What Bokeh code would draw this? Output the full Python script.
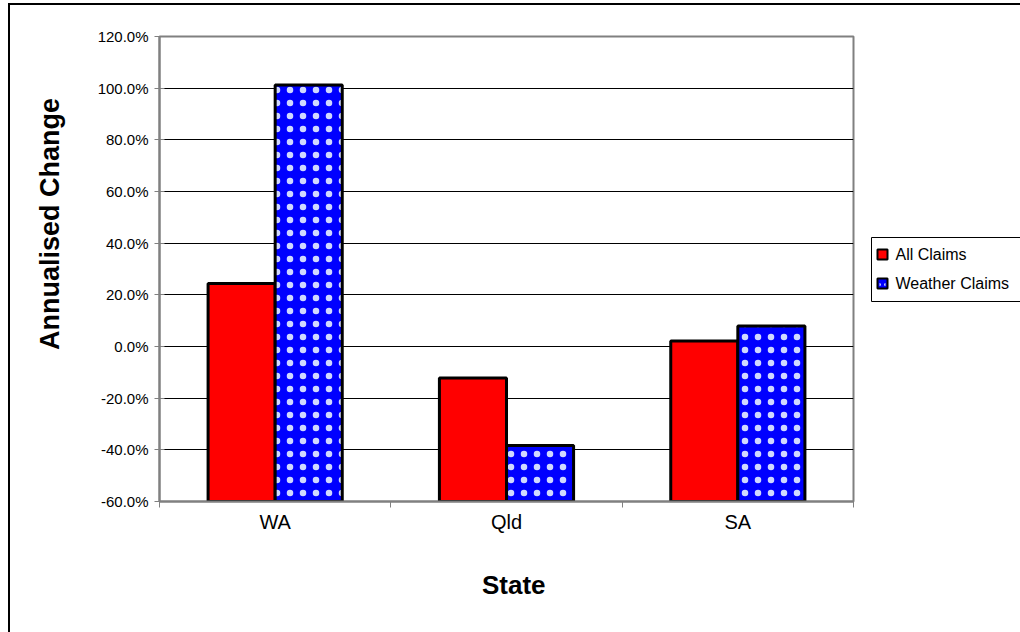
from bokeh.plotting import figure
from bokeh.models import (Range1d, FixedTicker, PrintfTickFormatter, ColumnDataSource)
from bokeh.core.properties import value
from bokeh.transform import dodge
from bokeh.layouts import row
from bokeh.embed import file_html
from bokeh.resources import INLINE

states = ["WA", "Qld", "SA"]
state_pos = [0.5, 1.5, 2.5]
all_claims = [24.4, -12.2, 2.1]
weather_claims = [101.2, -38.3, 7.9]
y_ticks = [-60, -40, -20, 0, 20, 40, 60, 80, 100, 120]
y_min, y_max = -60, 120
series_names = ["All Claims", "Weather Claims"]
series_colors = ["#ff0000", "#0000ff"]

src = ColumnDataSource(dict(x=state_pos, all=all_claims, weather=weather_claims))

H = 627
p = figure(width=860, height=H, output_backend="svg", toolbar_location=None,
           x_range=Range1d(0, 3), y_range=Range1d(y_min, y_max),
           min_border_left=149, min_border_right=17, min_border_top=31, min_border_bottom=131)

p.background_fill_color = "white"
p.border_fill_color = "white"
p.outline_line_color = "#808080"
p.outline_line_width = 2

# grid
p.xgrid.visible = False
p.ygrid.ticker = FixedTicker(ticks=y_ticks)
p.ygrid.grid_line_color = "black"
p.ygrid.grid_line_width = 1

# bars grow from the axis minimum, as in the reference
p.vbar(x=dodge("x", -0.145), top="all", bottom=y_min, width=0.29, source=src,
       fill_color=series_colors[0], line_color="black", line_width=3)
p.vbar(x=dodge("x", 0.145), top="weather", bottom=y_min, width=0.29, source=src,
       fill_color=series_colors[1], line_color="black", line_width=3,
       hatch_pattern=".", hatch_color="#d0d8ff", hatch_scale=13, hatch_weight=0.8)

# y axis
ya = p.yaxis[0]
ya.ticker = FixedTicker(ticks=y_ticks)
ya.formatter = PrintfTickFormatter(format="%.1f%%")
ya.axis_line_color = "#808080"
ya.axis_line_width = 2
ya.major_tick_line_color = "#808080"
ya.major_tick_line_width = 1
ya.major_tick_in = 5
ya.major_tick_out = 5
ya.minor_tick_line_color = None
ya.major_label_text_font = "Liberation Sans"
ya.major_label_text_font_size = "15px"
ya.major_label_text_color = "black"
ya.major_label_standoff = 6
ya.axis_label = "\u00a0" * 12 + "Annualised Change"
ya.axis_label_text_font = "Liberation Sans"
ya.axis_label_text_font_style = "bold"
ya.axis_label_text_font_size = "27px"
ya.axis_label_text_color = "black"
ya.axis_label_standoff = 30

# x axis
xa = p.xaxis[0]
xa.ticker = FixedTicker(ticks=state_pos, minor_ticks=[0, 1, 2, 3])
xa.major_label_overrides = {pos: s for pos, s in zip(state_pos, states)}
xa.major_tick_in = 0
xa.major_tick_out = 0
xa.minor_tick_in = 0
xa.minor_tick_out = 6
xa.minor_tick_line_color = "#808080"
xa.minor_tick_line_width = 1
xa.axis_line_color = "#808080"
xa.axis_line_width = 2
xa.major_label_text_font = "Liberation Sans"
xa.major_label_text_font_size = "20px"
xa.major_label_text_color = "black"
xa.major_label_standoff = 3
xa.axis_label = "\u00a0\u00a0State"
xa.axis_label_text_font = "Liberation Sans"
xa.axis_label_text_font_style = "bold"
xa.axis_label_text_font_size = "26px"
xa.axis_label_text_color = "black"
xa.axis_label_standoff = 34

# legend panel: a separate small figure to the right; its frame is aligned with the
# main plot frame by the row layout, so its ranges are expressed in window pixels
LW = 150
lg = figure(width=LW, height=H, output_backend="svg", toolbar_location=None,
            x_range=Range1d(0, LW), y_range=Range1d(501, 36),
            x_axis_location=None, y_axis_location=None,
            min_border=0, min_border_left=0, min_border_right=0,
            min_border_top=31, min_border_bottom=131)
lg.grid.visible = False
lg.outline_line_color = None
lg.background_fill_color = "white"
lg.border_fill_color = "white"

lg.quad(left=[1], right=[LW + 20], top=[237], bottom=[301],
        fill_color="white", line_color="black", line_width=1)
item_y = [254, 283]
lg.rect(x=[12, 12], y=item_y, width=10, height=10,
        fill_color=series_colors, line_color="black", line_width=2)
lg.rect(x=[12], y=[item_y[1]], width=6, height=6, fill_alpha=0,
        line_alpha=0, hatch_pattern=".", hatch_color="#d0d8ff", hatch_scale=6, hatch_weight=0.8)
lg.text(x=[25, 25], y=item_y, text=series_names, text_baseline="middle", text_align="left",
        text_font=value("Liberation Sans"), text_font_size="16px", text_color="black")

layout = row(p, lg, spacing=0)
layout.styles = {"border-left": "2px solid black", "border-top": "2px solid black",
                 "margin-left": "8px", "margin-top": "3px"}

open("out.html", "w").write(file_html(layout, INLINE))
